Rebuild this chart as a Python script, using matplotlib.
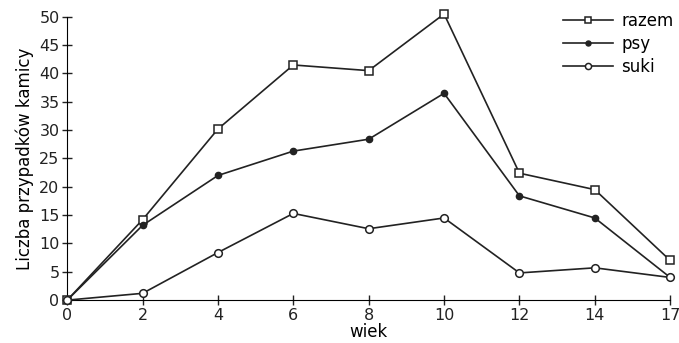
import matplotlib.pyplot as plt
import matplotlib as mpl

mpl.rcParams['font.family'] = 'DejaVu Sans'
mpl.rcParams['font.size'] = 12

# wiek (age) categories, drawn at equal spacing
wiek = ['0', '2', '4', '6', '8', '10', '12', '14', '17']
razem = [0, 14.2, 30.2, 41.5, 40.5, 50.5, 22.4, 19.5, 7.0]
psy = [0, 13.2, 22.0, 26.3, 28.4, 36.5, 18.4, 14.5, 4.0]
suki = [0, 1.2, 8.4, 15.3, 12.6, 14.5, 4.8, 5.7, 4.0]
yticks = [0, 5, 10, 15, 20, 25, 30, 35, 40, 45, 50]

fig = plt.figure(figsize=(6.79, 3.43), dpi=100)
ax = fig.add_axes([0.099, 0.125, 0.888, 0.826])

pos = list(range(len(wiek)))
ax.plot(pos, razem, color='#222222', lw=1.2, marker='s', ms=5.5,
        mfc='white', mec='#222222', mew=1.1, clip_on=False, zorder=3, label='razem')
ax.plot(pos, psy, color='#222222', lw=1.2, marker='o', ms=4.5,
        mfc='#222222', mec='#222222', clip_on=False, zorder=3, label='psy')
ax.plot(pos, suki, color='#222222', lw=1.2, marker='o', ms=5.5,
        mfc='white', mec='#222222', mew=1.1, clip_on=False, zorder=3, label='suki')

ax.set_xlim(0, len(wiek) - 1)
ax.set_ylim(0, 50)
ax.set_xticks(pos)
ax.set_xticklabels(wiek)
ax.set_yticks(yticks)
ax.spines['top'].set_visible(False)
ax.spines['right'].set_visible(False)
ax.tick_params(direction='inout', length=7, width=1, colors='#222222', pad=2,
               labelsize=11.5)
ax.set_xlabel('wiek', labelpad=0)
ax.set_ylabel('Liczba przypadków kamicy', labelpad=4)

leg = ax.legend(loc='upper right', bbox_to_anchor=(1.03, 1.07), frameon=False,
                handlelength=3.0, handletextpad=0.5, labelspacing=0.3,
                markerscale=0.8, fontsize=12)

fig.savefig('out.png', dpi=100)
